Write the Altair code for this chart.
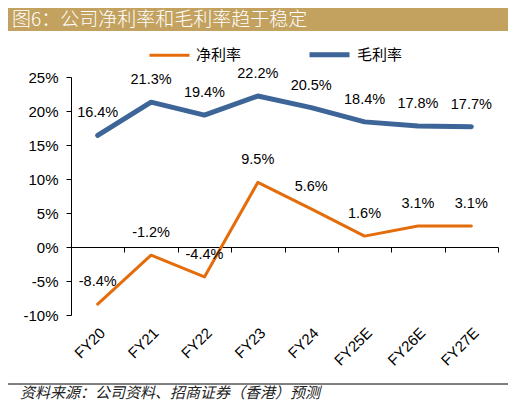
import altair as alt
import pandas as pd

years = ["FY20", "FY21", "FY22", "FY23", "FY24", "FY25E", "FY26E", "FY27E"]
net_margin = [-8.4, -1.2, -4.4, 9.5, 5.6, 1.6, 3.1, 3.1]
gross_margin = [16.4, 21.3, 19.4, 22.2, 20.5, 18.4, 17.8, 17.7]
series_names = ["净利率", "毛利率"]
series_colors = ["#E46C0A", "#3D6598"]
series_widths = [3, 5]
y_ticks = [-10, -5, 0, 5, 10, 15, 20, 25]
title_text = "图6：公司净利率和毛利率趋于稳定"
source_text = "资料来源：公司资料、招商证券（香港）预测"

rows = []
for name, vals in zip(series_names, [net_margin, gross_margin]):
    for yr, v in zip(years, vals):
        rows.append({"year": yr, "series": name, "value": v})
df = pd.DataFrame(rows)

W, H = 427, 238
y_min, y_max = -10, 25
zero_offset = -(H - H * y_max / (y_max - y_min))

LATIN = "Liberation Sans"
CJK = "Noto Sans CJK SC"

x_scale = alt.Scale(type="band", domain=years, paddingInner=0, paddingOuter=0)
y_scale = alt.Scale(domain=[y_min, y_max], nice=False, zero=False)
y_axis = alt.Axis(values=y_ticks, labelExpr="datum.value + '%'", grid=False,
                  domainColor="black", tickColor="black", tickSize=5,
                  labelFontSize=15, labelPadding=8, labelFont=LATIN,
                  labelColor="black", title=None, orient="left")

legend = alt.Legend(orient="none", legendX=77, legendY=-45, direction="horizontal",
                    title=None, symbolType="stroke", symbolSize=1600,
                    labelFontSize=15, labelFont=CJK, labelColor="black",
                    columnPadding=57, labelOffset=5)

lines = alt.Chart(df).mark_line(strokeCap="round", strokeJoin="round").encode(
    x=alt.X("year:N", scale=x_scale, bandPosition=0.5,
            axis=alt.Axis(labels=False, tickBand="extent", offset=zero_offset,
                          domainColor="black", tickColor="black", tickSize=5,
                          title=None, grid=False, orient="bottom")),
    y=alt.Y("value:Q", scale=y_scale, axis=y_axis),
    color=alt.Color("series:N", scale=alt.Scale(domain=series_names, range=series_colors),
                    legend=legend),
    strokeWidth=alt.StrokeWidth("series:N",
                                scale=alt.Scale(domain=series_names, range=series_widths),
                                legend=legend),
)

labels = alt.Chart(df).transform_calculate(
    lbl="(datum.value < 0 ? '-' : '') + format(abs(datum.value), '.1f') + '%'"
).mark_text(dy=-22, fontSize=14.5, font=LATIN, color="black").encode(
    x=alt.X("year:N", scale=x_scale, bandPosition=0.5,
            axis=alt.Axis(domain=False, ticks=False, labelAngle=-45, labelFontSize=15,
                          labelFont=LATIN, labelPadding=10, title=None, grid=False,
                          labelColor="black", orient="bottom")),
    y=alt.Y("value:Q", scale=y_scale, axis=y_axis),
    text="lbl:N",
)

decor_df = pd.DataFrame({"k": [0]})
title_bar = alt.Chart(decor_df).mark_rect(color="#C3A25F").encode(
    x=alt.value(-63), x2=alt.value(437), y=alt.value(-69), y2=alt.value(-46))
title_txt = alt.Chart(decor_df).mark_text(
    text=title_text, align="left", baseline="middle", fontSize=19, fontWeight=300,
    color="white", font=CJK).encode(x=alt.value(-59), y=alt.value(-57))
bottom_rule = alt.Chart(decor_df).mark_rule(color="black", strokeWidth=1).encode(
    x=alt.value(-63), x2=alt.value(437), y=alt.value(307))
source = alt.Chart(decor_df).mark_text(
    text=source_text, align="left", baseline="middle", fontSize=15,
    fontStyle="italic", color="#222222", font=CJK).encode(
    x=alt.value(-51), y=alt.value(316))

chart = alt.layer(title_bar, title_txt, lines, labels, bottom_rule, source).resolve_axis(
    x="independent"
).properties(
    width=W, height=H,
    padding={"left": 63, "top": 69, "right": 10, "bottom": 88},
    autosize=alt.AutoSizeParams(type="none"),
).configure_view(stroke=None)

chart.save("out.html", embed_options={"renderer": "svg", "actions": False})
